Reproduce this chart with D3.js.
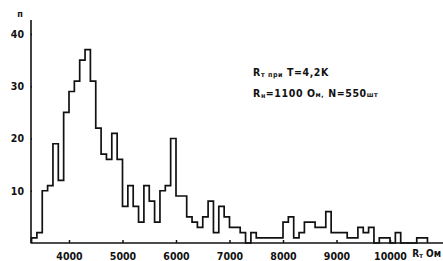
<!DOCTYPE html>
<html>
<head>
<meta charset="utf-8">
<script src="https://cdn.jsdelivr.net/npm/d3@7"></script>
<style>
  body { margin: 0; background: #fff; }
  #hist svg text { font-family: "DejaVu Sans Condensed", "DejaVu Sans", sans-serif; font-weight: bold; fill: #111; }
</style>
</head>
<body>
<div id="hist"></div>
<script>
// left edge of every 100 Ohm bin
var binLow = [
  3300, 3400, 3500, 3600, 3700, 3800, 3900,
  4000, 4100, 4200, 4300, 4400, 4500, 4600, 4700, 4800, 4900,
  5000, 5100, 5200, 5300, 5400, 5500, 5600, 5700, 5800, 5900,
  6000, 6100, 6200, 6300, 6400, 6500, 6600, 6700, 6800, 6900,
  7000, 7100, 7200, 7300, 7400, 7500, 7600, 7700, 7800, 7900,
  8000, 8100, 8200, 8300, 8400, 8500, 8600, 8700, 8800, 8900,
  9000, 9100, 9200, 9300, 9400, 9500, 9600, 9700, 9800, 9900,
  10000, 10100, 10200, 10300, 10400, 10500, 10600
];
var binWidth = 100;

// number of samples n in each bin
var counts = [
  1, 2, 10, 11, 19, 12, 25,
  29, 31, 35, 37, 31, 22, 17, 16, 21, 16,
  7, 11, 7, 4, 11, 8, 4, 10, 11, 20,
  9, 9, 5, 4, 3, 5, 8, 2, 7, 5,
  3, 3, 2, 0, 2, 1, 1, 1, 1, 1,
  4, 5, 1, 2, 4, 4, 3, 3, 6, 2,
  2, 2, 1, 1, 3, 2, 3, 0, 1, 1,
  0, 2, 0, 0, 0, 1, 1
];

var xTicks = [4000, 5000, 6000, 7000, 8000, 9000, 10000];
var yTicks = [10, 20, 30, 40];

var width = 443;
var height = 261;

var svg = d3.select("#hist")
    .append("svg")
    .attr("width", width)
    .attr("height", height);

var x = d3.scaleLinear().domain([4000, 10000]).range([69, 390]);
var y = d3.scaleLinear().domain([0, 40]).range([243, 34]);

// x axis: ticks poke up from the line
var xAxis = d3.axisBottom(x)
    .tickValues(xTicks)
    .tickSizeInner(-3)
    .tickSizeOuter(0)
    .tickPadding(10)
    .tickFormat(d3.format("d"));

var gx = svg.append("g")
    .attr("transform", "translate(0," + y(0) + ")")
    .call(xAxis);
gx.select(".domain").remove();
gx.selectAll(".tick line").attr("stroke", "#111").attr("stroke-width", 1.5).attr("y2", -3);
gx.selectAll(".tick text").style("font-size", "10.5px");

svg.append("line")
    .attr("x1", x(3300) - 1).attr("x2", width)
    .attr("y1", y(0)).attr("y2", y(0))
    .attr("stroke", "#111")
    .attr("stroke-width", 1.6);

// y axis
var yAxis = d3.axisLeft(y)
    .tickValues(yTicks)
    .tickSizeInner(3)
    .tickSizeOuter(0)
    .tickPadding(4);

var gy = svg.append("g")
    .attr("transform", "translate(31,0)")
    .call(yAxis);
gy.select(".domain").remove();
gy.selectAll(".tick line").attr("stroke", "#111").attr("stroke-width", 1.5).attr("x2", 1);
gy.selectAll(".tick text").style("font-size", "10.5px");

svg.append("line")
    .attr("x1", 31).attr("x2", 31)
    .attr("y1", 20).attr("y2", y(0))
    .attr("stroke", "#111")
    .attr("stroke-width", 1.6);

svg.append("text")
    .attr("x", 20).attr("y", 17)
    .attr("text-anchor", "middle")
    .style("font-size", "9px")
    .text("п");

// histogram outline drawn as a step line
var pts = [{ v: binLow[0], n: 0 }];
binLow.forEach(function (b, i) {
    pts.push({ v: b, n: counts[i] });
});
pts.push({ v: binLow[binLow.length - 1] + binWidth, n: 0 });

var step = d3.line()
    .x(function (d) { return x(d.v); })
    .y(function (d) { return y(d.n); })
    .curve(d3.curveStepAfter);

svg.append("path")
    .datum(pts)
    .attr("d", step)
    .attr("fill", "none")
    .attr("stroke", "#111")
    .attr("stroke-width", 1.7);

// axis unit label, kept inside the right and bottom edges
var unit = svg.append("text")
    .attr("x", 441).attr("y", 257)
    .attr("text-anchor", "end")
    .style("font-size", "10px");
unit.append("tspan").text("R");
unit.append("tspan").attr("dy", 1).style("font-size", "7px").text("т");
unit.append("tspan").attr("dy", -1).text(" Ом");

// legend notes
var note1 = svg.append("text")
    .attr("x", 253).attr("y", 76)
    .style("font-size", "10.5px")
    .style("letter-spacing", "0.6px");
note1.append("tspan").text("R");
note1.append("tspan").attr("dy", 1).style("font-size", "7px").text("т при");
note1.append("tspan").attr("dy", -1).text(" T=4,2K");

var note2 = svg.append("text")
    .attr("x", 253).attr("y", 97)
    .style("font-size", "10.5px")
    .style("letter-spacing", "0.6px");
note2.append("tspan").text("R");
note2.append("tspan").attr("dy", 1).style("font-size", "7px").text("н");
note2.append("tspan").attr("dy", -1).text("=1100 О");
note2.append("tspan").style("font-size", "7px").text("м,");
note2.append("tspan").text(" N=550");
note2.append("tspan").style("font-size", "7px").text("шт");
</script>
</body>
</html>
